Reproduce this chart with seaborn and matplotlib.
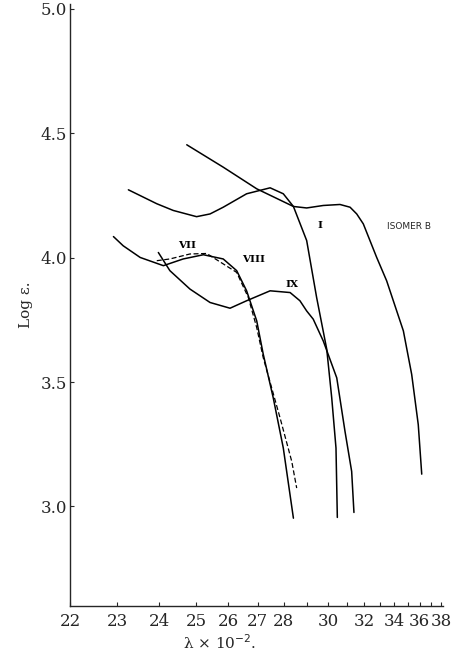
import numpy as np
import pandas as pd
import seaborn as sns
import matplotlib.pyplot as plt

# lambda (x 10^-2) and log eps
isob_lam = [24.74, 25.83, 26.97, 28.41, 28.99, 29.77, 30.62, 31.17, 31.55, 31.94, 32.78, 33.45, 34.67, 35.33, 35.88, 36.18]
isob_loge = [4.454, 4.364, 4.277, 4.206, 4.200, 4.210, 4.214, 4.203, 4.176, 4.136, 4.001, 3.907, 3.706, 3.531, 3.329, 3.130]

c1_lam = [23.25, 23.94, 24.37, 25.02, 25.42, 25.83, 26.61, 27.47, 27.99, 28.41, 28.99, 29.45, 29.94, 30.19, 30.41, 30.48]
c1_loge = [4.273, 4.217, 4.190, 4.165, 4.176, 4.203, 4.257, 4.281, 4.257, 4.206, 4.069, 3.840, 3.632, 3.437, 3.235, 2.956]

c8_lam = [22.91, 23.13, 23.53, 24.11, 24.64, 25.22, 25.83, 26.27, 26.61, 26.97, 27.21, 27.59, 27.99, 28.41]
c8_loge = [4.085, 4.048, 4.001, 3.968, 3.995, 4.012, 3.995, 3.948, 3.867, 3.746, 3.612, 3.437, 3.235, 2.953]

c7_lam = [23.94, 24.28, 24.83, 25.32, 26.27, 26.67, 26.97, 27.21, 27.86, 28.34, 28.55]
c7_loge = [3.988, 3.995, 4.015, 4.017, 3.941, 3.840, 3.719, 3.598, 3.356, 3.181, 3.074]

c9_lam = [23.98, 24.28, 24.83, 25.42, 26.05, 26.61, 27.47, 28.27, 28.69, 28.99, 29.29, 29.77, 30.45, 30.89, 31.26, 31.39]
c9_loge = [4.021, 3.948, 3.874, 3.820, 3.797, 3.827, 3.867, 3.860, 3.827, 3.786, 3.753, 3.665, 3.517, 3.302, 3.141, 2.976]

xticks = [22, 23, 24, 25, 26, 27, 28, 30, 32, 34, 36, 38]
xminor = [29, 31, 33, 35, 37]
yticks = [3.0, 3.5, 4.0, 4.5, 5.0]

sns.set_style("ticks")
plt.rcParams['font.family'] = ['DejaVu Serif']

fig = plt.figure(figsize=(4.58, 6.62), dpi=100)
ax = fig.add_axes([0.1528, 0.0846, 0.8144, 0.9094])

# abscissa is linear in 1/lambda^2
ax.set_xscale('function', functions=(lambda x: -1.0 / np.square(np.clip(x, 1e-3, None)),
                                     lambda y: 1.0 / np.sqrt(np.clip(-y, 1e-9, None))))

solid = [(isob_lam, isob_loge), (c1_lam, c1_loge), (c8_lam, c8_loge), (c9_lam, c9_loge)]
for lam, le in solid:
    df = pd.DataFrame({'lam': lam, 'loge': le})
    sns.lineplot(data=df, x='lam', y='loge', sort=False, estimator=None,
                 color='black', lw=1.1, ax=ax)
df7 = pd.DataFrame({'lam': c7_lam, 'loge': c7_loge})
sns.lineplot(data=df7, x='lam', y='loge', sort=False, estimator=None,
             color='black', lw=0.9, ls=(0, (4, 2)), ax=ax)

lab = dict(color='black', fontsize=7.5, fontweight='bold', ha='center', va='center')
ax.text(29.61, 4.129, 'I', **lab)
ax.text(24.74, 4.048, 'VII', **lab)
ax.text(26.85, 3.991, 'VIII', **lab)
ax.text(28.34, 3.894, 'IX', **lab)
ax.text(35.11, 4.125, 'ISOMER B', family='DejaVu Sans', fontsize=6.5, ha='center', va='center')

ax.set_xlim(22, 38.2)
ax.set_ylim(2.6, 5.02)
ax.set_xticks(xticks)
ax.set_xticklabels([str(t) for t in xticks])
ax.set_xticks(xminor, minor=True)
ax.set_yticks(yticks)
ax.set_yticklabels(['%.1f' % t for t in yticks])
ax.tick_params(axis='both', which='both', direction='in', length=3, width=0.8, labelsize=12)
ax.tick_params(axis='x', pad=5)
ax.tick_params(axis='y', pad=2)
sns.despine(ax=ax)
for s in ['left', 'bottom']:
    ax.spines[s].set_linewidth(1.0)

ax.set_xlabel('λ × 10$^{-2}$.', fontsize=11)
ax.xaxis.set_label_coords(0.40, -0.045)
ax.set_ylabel('Log ε.', fontsize=11)
ax.yaxis.set_label_coords(-0.10, 0.5)

fig.savefig('out.png', dpi=100)
